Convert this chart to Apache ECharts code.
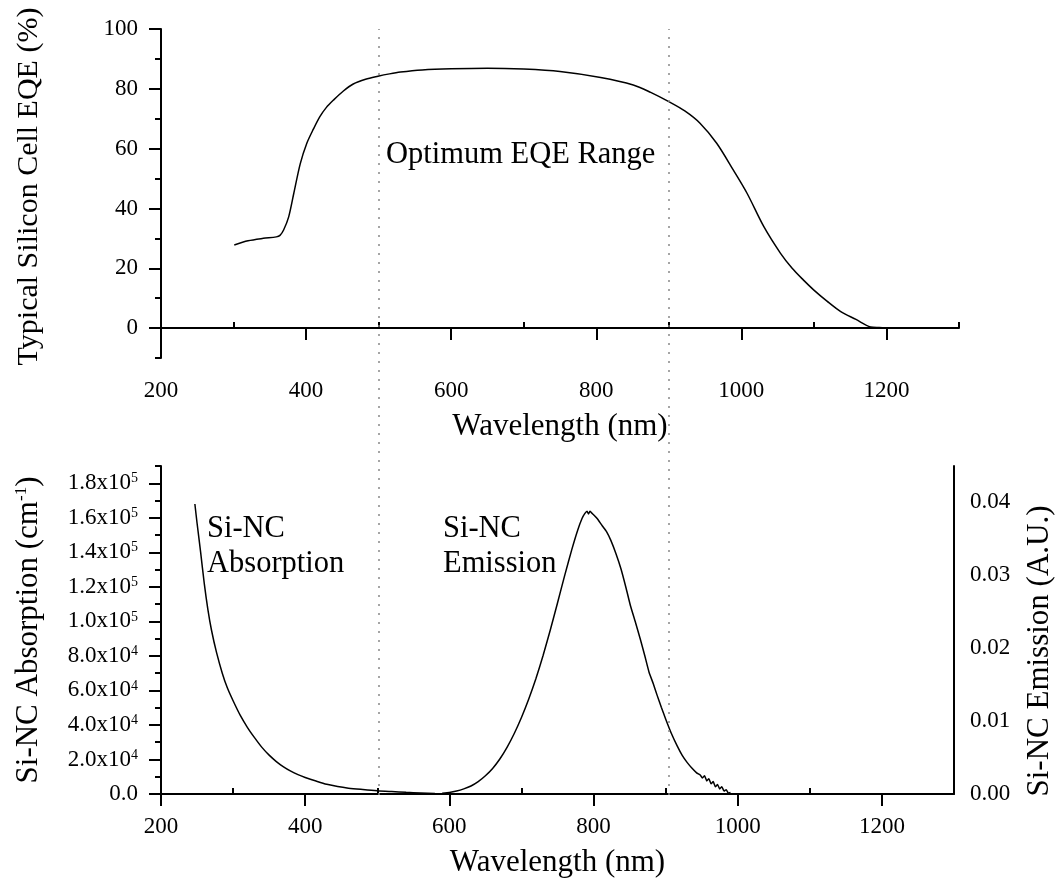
<!DOCTYPE html>
<html>
<head>
<meta charset="utf-8">
<script src="https://cdn.jsdelivr.net/npm/echarts@6/dist/echarts.min.js"></script>
<style>
html,body{margin:0;padding:0;background:#fff;}
#c{width:1063px;height:879px;}
</style>
</head>
<body>
<div id="c"></div>
<script>
// ---- data ----
var xMajorTicks = [200, 400, 600, 800, 1000, 1200];
var xMinorTicks = [300, 500, 700, 900, 1100, 1300];
var eqeMajorTicks = [0, 20, 40, 60, 80, 100];
var eqeMinorTicks = [-10, 10, 30, 50, 70, 90];
var absMajorTicks = [0, 20000, 40000, 60000, 80000, 100000, 120000, 140000, 160000, 180000];
var absMinorTicks = [10000, 30000, 50000, 70000, 90000, 110000, 130000, 150000, 170000, 190000];
var emiTicks = [0, 0.01, 0.02, 0.03, 0.04];
var rangeBounds = [500, 900];

var eqeWavelength = [301, 320, 341, 359, 364, 369, 376, 383, 392, 401, 410, 419, 428, 438, 451, 465, 482, 499, 515, 530, 560, 600, 650, 700, 750, 806, 851, 875, 900, 922, 943, 966, 989, 1008, 1031, 1054, 1070, 1085, 1100, 1118, 1137, 1158, 1178, 1190, 1201];
var eqeValue      = [27.8, 29.2, 30.0, 30.5, 31.0, 32.8, 37.2, 45.0, 55.0, 61.8, 66.5, 70.7, 73.8, 76.3, 79.2, 81.6, 83.2, 84.2, 85.0, 85.6, 86.3, 86.7, 86.9, 86.6, 85.8, 83.8, 81.3, 78.8, 75.7, 72.6, 68.5, 61.8, 52.8, 45.0, 33.9, 25.0, 20.0, 16.2, 12.7, 9.0, 5.5, 2.9, 0.4, 0.2, 0.1];

var absWavelength = [247, 250, 255, 260, 265, 270, 277, 285, 292, 300, 310, 320, 330, 340, 350, 360, 370, 380, 390, 400, 415, 430, 445, 460, 480, 500, 520, 540, 560, 580, 600];
var absValue      = [168000, 157000, 140000, 122000, 107000, 95000, 82000, 70000, 61500, 54000, 45500, 38500, 32500, 27000, 22500, 18800, 15700, 13200, 11200, 9600, 7500, 5600, 4300, 3400, 2600, 1900, 1400, 950, 600, 300, 100];

var emiWavelength = [590, 600, 610, 620, 630, 640, 650, 660, 670, 680, 690, 700, 710, 720, 730, 740, 750, 760, 770, 778, 784, 788, 791, 793, 795, 797, 800, 805, 812, 818, 824, 831, 838, 845, 851, 858, 865, 871, 877, 883, 888, 894, 900, 908, 916, 923, 930, 936, 943, 948, 951, 954, 957, 960, 963, 966, 969, 972, 975, 978, 981, 984, 987, 990];
var emiValue      = [0.0001, 0.0002, 0.0004, 0.0007, 0.0011, 0.0017, 0.0025, 0.0035, 0.0048, 0.0064, 0.0083, 0.0105, 0.0130, 0.0158, 0.0190, 0.0225, 0.0262, 0.0300, 0.0336, 0.0362, 0.0378, 0.0385, 0.0388, 0.0384, 0.0388, 0.0386, 0.0383, 0.0378, 0.0368, 0.0360, 0.0348, 0.0330, 0.0309, 0.0283, 0.0259, 0.0236, 0.0212, 0.0190, 0.0167, 0.0151, 0.0136, 0.0119, 0.0103, 0.0083, 0.0066, 0.0053, 0.0043, 0.0036, 0.0029, 0.0026, 0.0022, 0.0025, 0.0018, 0.0021, 0.0014, 0.0017, 0.0010, 0.0013, 0.0007, 0.0010, 0.0004, 0.0006, 0.0001, 0.0002];

function zip(a, b) { return a.map(function (v, i) { return [v, b[i]]; }); }

// ---- styles ----
var FONT = '"Liberation Serif", "Times New Roman", serif';
var TICK_FS = 23, NAME_FS = 31, NOTE_FS = 30.5;
var axisLineStyle = { show: true, lineStyle: { color: '#000', width: 2 } };
var labelStyle = { color: '#000', fontFamily: FONT, fontSize: TICK_FS };
var nameStyle = { color: '#000', fontFamily: FONT, fontSize: NAME_FS };

function majorX(grid) {
  return {
    type: 'value', gridIndex: grid, min: 200, max: 1300,
    axisLine: axisLineStyle,
    axisTick: { show: true, length: 12, inside: false, customValues: xMajorTicks, lineStyle: { color: '#000', width: 2 } },
    axisLabel: Object.assign({ show: true, margin: 21, customValues: xMajorTicks, formatter: function (v) { return String(v); } }, labelStyle),
    splitLine: { show: false },
    name: 'Wavelength (nm)', nameLocation: 'middle', nameGap: 53, nameTextStyle: nameStyle
  };
}
function minorX(grid) {
  return {
    type: 'value', gridIndex: grid, min: 200, max: 1300,
    axisLine: { show: false },
    axisTick: { show: true, length: 6, customValues: xMinorTicks, lineStyle: { color: '#000', width: 2 } },
    axisLabel: { show: false }, splitLine: { show: false }
  };
}

function absFormatter(v) {
  if (v === 0) return '0.0';
  if (v >= 100000) return (v / 100000).toFixed(1) + 'x10{sup|5}';
  return (v / 10000).toFixed(1) + 'x10{sup|4}';
}

var option = {
  backgroundColor: '#fff',
  animation: false,
  grid: [
    { left: 161, right: 104, top: 29, height: 329 },
    { left: 161, right: 104, top: 466, height: 329 },
    { left: 161, right: 104, top: 29, height: 766 }
  ],
  xAxis: [
    majorX(0), minorX(0), majorX(1), minorX(1),
    { type: 'value', gridIndex: 2, min: 200, max: 1300, show: false }
  ],
  yAxis: [
    {
      type: 'value', gridIndex: 0, min: -10, max: 100, position: 'left',
      axisLine: axisLineStyle,
      axisTick: { show: true, length: 12, customValues: eqeMajorTicks, lineStyle: { color: '#000', width: 2 } },
      axisLabel: Object.assign({ margin: 23, customValues: eqeMajorTicks }, labelStyle),
      splitLine: { show: false },
      name: 'Typical Silicon Cell EQE (%)', nameLocation: 'middle', nameGap: 117,
      nameTextStyle: Object.assign({ padding: [0, 0, 0, 14] }, nameStyle, { fontSize: 30 })
    },
    {
      type: 'value', gridIndex: 0, min: -10, max: 100, position: 'left',
      axisLine: { show: false },
      axisTick: { show: true, length: 6, customValues: eqeMinorTicks, lineStyle: { color: '#000', width: 2 } },
      axisLabel: { show: false }, splitLine: { show: false }
    },
    {
      type: 'value', gridIndex: 1, min: 0, max: 190000, position: 'left',
      axisLine: axisLineStyle,
      axisTick: { show: true, length: 12, customValues: absMajorTicks, lineStyle: { color: '#000', width: 2 } },
      axisLabel: Object.assign({
        margin: 23, customValues: absMajorTicks, formatter: absFormatter,
        rich: { sup: { fontFamily: FONT, fontSize: 14, color: '#000', verticalAlign: 'top', lineHeight: 12, padding: [0, 0, 6, 0] } }
      }, labelStyle),
      splitLine: { show: false },
      name: 'Si-NC Absorption (cm{sup|-1})', nameLocation: 'middle', nameGap: 117,
      nameTextStyle: Object.assign({
        rich: { sup: { fontFamily: FONT, fontSize: 17, color: '#000', verticalAlign: 'top', lineHeight: 14, padding: [0, 0, 8, 0] } }
      }, nameStyle)
    },
    {
      type: 'value', gridIndex: 1, min: 0, max: 190000, position: 'left',
      axisLine: { show: false },
      axisTick: { show: true, length: 6, customValues: absMinorTicks, lineStyle: { color: '#000', width: 2 } },
      axisLabel: { show: false }, splitLine: { show: false }
    },
    {
      type: 'value', gridIndex: 1, min: 0, max: 0.045, position: 'right',
      axisLine: axisLineStyle,
      axisTick: { show: false },
      axisLabel: Object.assign({ margin: 16, customValues: emiTicks, formatter: function (v) { return v.toFixed(2); } }, labelStyle),
      splitLine: { show: false },
      name: 'Si-NC Emission (A.U.)', nameLocation: 'middle', nameGap: 70,
      nameTextStyle: Object.assign({ padding: [0, 42, 0, 0] }, nameStyle)
    },
    { type: 'value', gridIndex: 2, min: 0, max: 1, show: false }
  ],
  series: [
    {
      type: 'line', xAxisIndex: 0, yAxisIndex: 0, data: zip(eqeWavelength, eqeValue),
      showSymbol: false, smooth: 0.3, lineStyle: { color: '#000', width: 1.5 }, silent: true
    },
    {
      type: 'line', xAxisIndex: 2, yAxisIndex: 2, data: zip(absWavelength, absValue),
      showSymbol: false, smooth: 0.3, lineStyle: { color: '#000', width: 1.5 }, silent: true
    },
    {
      type: 'line', xAxisIndex: 2, yAxisIndex: 4, data: zip(emiWavelength, emiValue),
      showSymbol: false, smooth: 0.15, lineStyle: { color: '#000', width: 1.5 }, silent: true
    },
    {
      type: 'line', xAxisIndex: 4, yAxisIndex: 5, data: [], silent: true,
      markLine: {
        silent: true, symbol: ['none', 'none'], label: { show: false },
        lineStyle: { color: '#888', width: 1.5, type: [2, 7] },
        data: rangeBounds.map(function (v) { return { xAxis: v }; })
      }
    }
  ],
  graphic: [
    { type: 'text', left: 386, top: 139, style: { text: 'Optimum EQE Range', fontFamily: FONT, fontSize: NOTE_FS, fill: '#000' } },
    { type: 'text', left: 207, top: 511, style: { text: 'Si-NC\nAbsorption', fontFamily: FONT, fontSize: NOTE_FS, lineHeight: 35, fill: '#000' } },
    { type: 'text', left: 443, top: 511, style: { text: 'Si-NC\nEmission', fontFamily: FONT, fontSize: NOTE_FS, lineHeight: 35, fill: '#000' } }
  ]
};

var chart = echarts.init(document.getElementById('c'), null, { renderer: 'canvas' });
chart.setOption(option);
</script>
</body>
</html>
